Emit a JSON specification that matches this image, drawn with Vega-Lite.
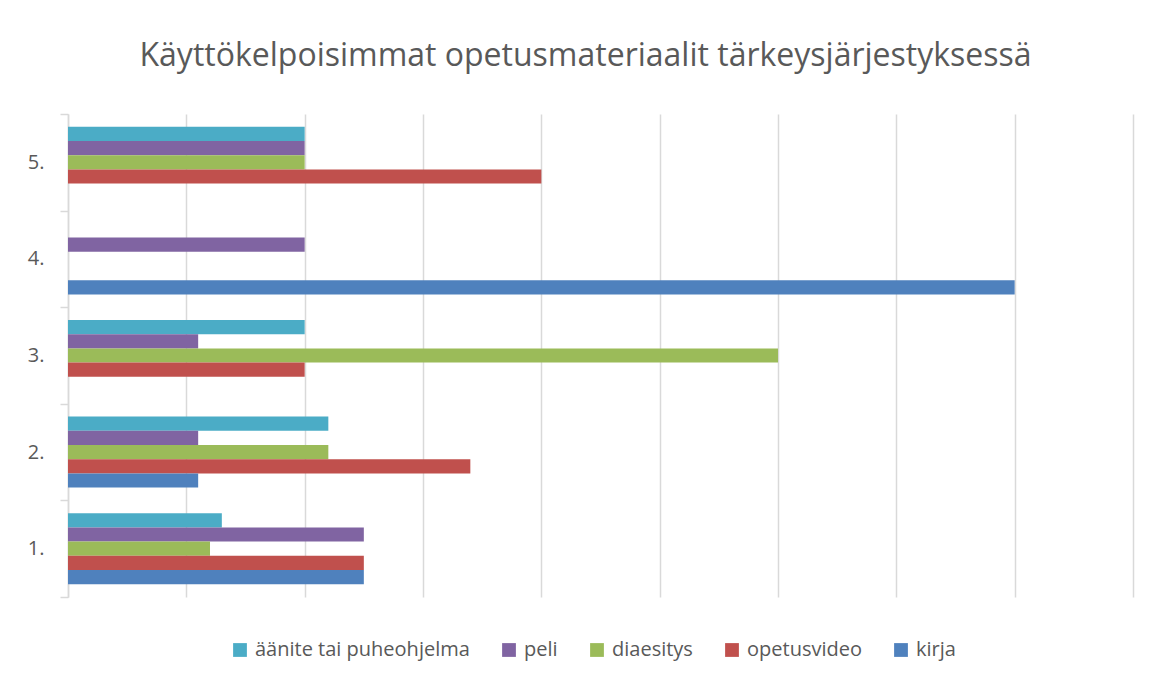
{
  "$schema": "https://vega.github.io/schema/vega-lite/v6.json",
  "width": 1065,
  "height": 483,
  "autosize": {"type": "none"},
  "padding": {"left": 68, "top": 114, "right": 19, "bottom": 82},
  "background": "white",
  "title": {
    "text": "Käyttökelpoisimmat opetusmateriaalit tärkeysjärjestyksessä",
    "font": "Open Sans",
    "fontSize": 32,
    "fontWeight": "normal",
    "color": "#595959",
    "baseline": "alphabetic",
    "offset": 6,
    "frame": "group",
    "anchor": "middle",
    "dx": -15
  },
  "data": {
    "values": [
      {"sija": "5.", "materiaali": "äänite tai puheohjelma", "arvo": 2},
      {"sija": "5.", "materiaali": "peli", "arvo": 2},
      {"sija": "5.", "materiaali": "diaesitys", "arvo": 2},
      {"sija": "5.", "materiaali": "opetusvideo", "arvo": 4},
      {"sija": "5.", "materiaali": "kirja", "arvo": 0},
      {"sija": "4.", "materiaali": "äänite tai puheohjelma", "arvo": 0},
      {"sija": "4.", "materiaali": "peli", "arvo": 2},
      {"sija": "4.", "materiaali": "diaesitys", "arvo": 0},
      {"sija": "4.", "materiaali": "opetusvideo", "arvo": 0},
      {"sija": "4.", "materiaali": "kirja", "arvo": 8},
      {"sija": "3.", "materiaali": "äänite tai puheohjelma", "arvo": 2},
      {"sija": "3.", "materiaali": "peli", "arvo": 1.1},
      {"sija": "3.", "materiaali": "diaesitys", "arvo": 6},
      {"sija": "3.", "materiaali": "opetusvideo", "arvo": 2},
      {"sija": "3.", "materiaali": "kirja", "arvo": 0},
      {"sija": "2.", "materiaali": "äänite tai puheohjelma", "arvo": 2.2},
      {"sija": "2.", "materiaali": "peli", "arvo": 1.1},
      {"sija": "2.", "materiaali": "diaesitys", "arvo": 2.2},
      {"sija": "2.", "materiaali": "opetusvideo", "arvo": 3.4},
      {"sija": "2.", "materiaali": "kirja", "arvo": 1.1},
      {"sija": "1.", "materiaali": "äänite tai puheohjelma", "arvo": 1.3},
      {"sija": "1.", "materiaali": "peli", "arvo": 2.5},
      {"sija": "1.", "materiaali": "diaesitys", "arvo": 1.2},
      {"sija": "1.", "materiaali": "opetusvideo", "arvo": 2.5},
      {"sija": "1.", "materiaali": "kirja", "arvo": 2.5}
    ]
  },
  "mark": {"type": "bar"},
  "encoding": {
    "y": {
      "field": "sija",
      "type": "nominal",
      "sort": ["5.", "4.", "3.", "2.", "1."],
      "scale": {"paddingInner": 0, "paddingOuter": 0},
      "axis": {
        "title": null,
        "domainColor": "#d9d9d9",
        "domainWidth": 1.5,
        "tickColor": "#d9d9d9",
        "tickWidth": 1.5,
        "tickSize": 8,
        "tickBand": "extent",
        "grid": false,
        "labelFont": "Open Sans",
        "labelFontSize": 20,
        "labelColor": "#595959",
        "labelPadding": 16
      }
    },
    "yOffset": {
      "field": "materiaali",
      "type": "nominal",
      "sort": ["äänite tai puheohjelma", "peli", "diaesitys", "opetusvideo", "kirja"],
      "scale": {"paddingOuter": 0.9, "paddingInner": 0}
    },
    "x": {
      "field": "arvo",
      "type": "quantitative",
      "scale": {"domain": [0, 9], "nice": false, "zero": true},
      "axis": {
        "title": null,
        "values": [0, 1, 2, 3, 4, 5, 6, 7, 8, 9],
        "labels": false,
        "ticks": false,
        "domain": false,
        "grid": true,
        "gridColor": "#d9d9d9",
        "gridWidth": 1.5
      }
    },
    "color": {
      "field": "materiaali",
      "type": "nominal",
      "scale": {
        "domain": ["äänite tai puheohjelma", "peli", "diaesitys", "opetusvideo", "kirja"],
        "range": ["#4BACC6", "#8064A2", "#9BBB59", "#C0504D", "#4F81BD"]
      },
      "legend": {
        "title": null,
        "orient": "none",
        "direction": "horizontal",
        "columns": 5,
        "legendX": 162,
        "legendY": 526,
        "symbolType": "square",
        "symbolSize": 190,
        "symbolStrokeWidth": 0,
        "labelFont": "Open Sans",
        "labelFontSize": 20,
        "labelColor": "#595959",
        "labelOffset": 5,
        "labelLimit": 0,
        "columnPadding": 29
      }
    }
  },
  "config": {
    "view": {"stroke": null}
  }
}
